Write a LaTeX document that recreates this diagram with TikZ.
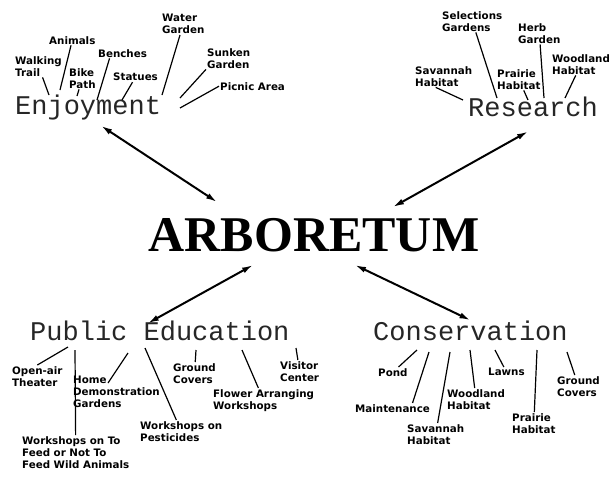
\documentclass[tikz,border=0pt]{standalone}
\usepackage{fontspec}
\setmainfont{DejaVu Sans}
\newfontfamily\hubfont{Liberation Serif}
\newfontfamily\topicfont{Liberation Mono}
\usetikzlibrary{arrows.meta}
\tikzset{
  hub/.style={font=\hubfont\bfseries\fontsize{50}{50}\selectfont, inner sep=0pt},
  topic/.style={font=\topicfont\fontsize{27}{27}\selectfont, text=black!85, anchor=base west, inner sep=0pt},
  leaf/.style={font=\bfseries\fontsize{10.3}{12}\selectfont, align=left, anchor=north west, inner sep=1pt},
  twig/.style={line width=1.2pt},
  spoke/.style={line width=2pt, {Latex[length=11pt,width=6pt]}-{Latex[length=11pt,width=6pt]}}
}
\newcommand{\topicword}[4]{\node[topic] (#1) at (#2,#3) {#4};}
\newcommand{\leaflabel}[4]{\node[leaf] (#1) at (#2,#3) {#4};}
\newcommand{\twig}[4]{\coordinate (#2) at (#3,#4); \draw[twig] (#1) -- (#2);}
\newcommand{\spoke}[4]{\coordinate (#2) at (#3,#4); \draw[spoke] (#1) -- (#2);}

\begin{document}
\begin{tikzpicture}[x=1pt,y=-1pt]
    \useasboundingbox (0,0) rectangle (610,477);
    \node[hub] (arb) at (314,235) {ARBORETUM};
    \topicword{enj}{15}{114}{Enjoyment}    \topicword{res}{468}{116}{Research}
    \topicword{pub}{30}{340}{Public Education}    \topicword{cons}{373}{340}{Conservation}
    \spoke{[xshift=13pt,yshift=-6pt]enj.south}{hubNW}{217}{202}
    \spoke{[xshift=-5pt,yshift=-15pt]res.south}{hubNE}{393}{207}
    \spoke{[xshift=-12pt,yshift=-3pt]pub.north}{hubSW}{253}{265}
    \spoke{cons.north}{hubSE}{355}{265}

    % Enjoyment
    \leaflabel{walk}{14}{55}{Walking\\Trail}    \leaflabel{anim}{48}{35}{Animals}
    \leaflabel{bike}{68}{67}{Bike\\Path}    \leaflabel{bench}{97}{48}{Benches}
    \leaflabel{stat}{112}{72}{Statues}    \leaflabel{water}{161}{13}{Water\\Garden}
    \leaflabel{sunk}{206}{47}{Sunken\\Garden}    \leaflabel{picnic}{219}{81}{Picnic Area}
    \twig{walk}{walkE}{49}{95}\twig{anim}{animE}{60}{90}\twig{bike}{bikeE}{77}{96}
    \twig{[xshift=-13pt]bench.south}{benchE}{97}{100}\twig{stat}{statE}{122}{100}
    \twig{water}{waterE}{162}{95}\twig{sunk.south west}{sunkE}{180}{98}
    \twig{picnic.west}{picnicE}{180}{108}

    % Research
    \leaflabel{sel}{441}{10}{Selections\\Gardens}    \leaflabel{herb}{517}{22}{Herb\\Garden}
    \leaflabel{wood}{551}{53}{Woodland\\Habitat}    \leaflabel{prai}{496}{68}{Prairie\\Habitat}
    \leaflabel{sav}{414}{65}{Savannah\\Habitat}
    \twig{sel}{selE}{497}{98}\twig{herb}{herbE}{544}{98}\twig{wood}{woodE}{565}{98}
    \twig{prai}{praiE}{528}{100}\twig{[xshift=-8pt]sav.south}{savE}{463}{100}

    % Public Education
    \leaflabel{open}{11}{365}{Open-air\\Theater}    \leaflabel{home}{72}{375}{Home\\Demonstration\\Gardens}
    \leaflabel{feed}{21}{435}{Workshops on To\\Feed or Not To\\Feed Wild Animals}
    \leaflabel{pest}{139}{420}{Workshops on\\Pesticides}    \leaflabel{gcov}{172}{362}{Ground\\Covers}
    \leaflabel{flow}{212}{388}{Flower Arranging\\Workshops}    \leaflabel{visit}{279}{360}{Visitor\\Center}
    \twig{open.north}{openE}{68}{347}\twig{[shift={(36pt,-8pt)}]home.north west}{homeE}{128}{353}
    \twig{feed}{feedE}{75}{350}\twig{pest}{pestE}{145}{348}\twig{gcov}{gcovE}{196}{350}
    \twig{flow}{flowE}{242}{350}\twig{visit}{visitE}{296}{348}

    % Conservation
    \leaflabel{pond}{377}{367}{Pond}    \leaflabel{maint}{354}{403}{Maintenance}
    \leaflabel{savc}{406}{423}{Savannah\\Habitat}    \leaflabel{woodc}{446}{388}{Woodland\\Habitat}
    \leaflabel{lawns}{487}{367}{Lawns}    \leaflabel{praic}{511}{412}{Prairie\\Habitat}
    \leaflabel{gcovc}{556}{375}{Ground\\Covers}
    \twig{pond}{pondE}{417}{350}\twig{[xshift=20pt]maint.north}{maintE}{429}{352}
    \twig{savc}{savcE}{450}{352}\twig{woodc}{woodcE}{470}{350}\twig{lawns}{lawnsE}{495}{350}
    \twig{praic}{praicE}{537}{350}\twig{gcovc}{gcovcE}{567}{352}
\end{tikzpicture}
\end{document}
